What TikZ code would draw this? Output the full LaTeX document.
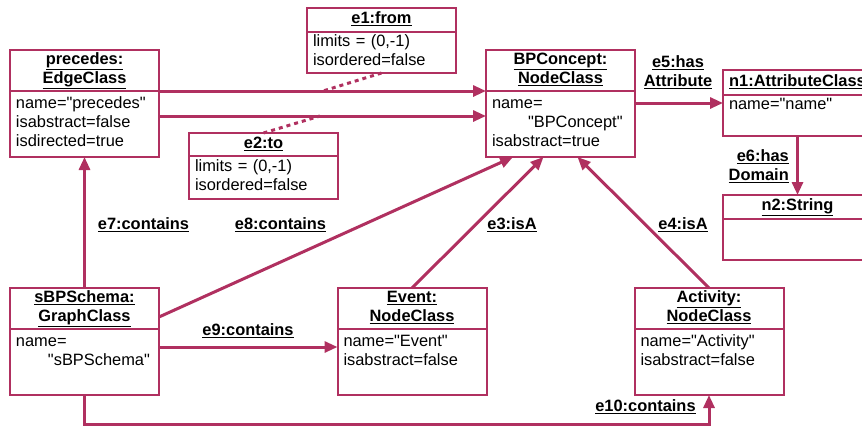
\documentclass[tikz,border=0pt]{standalone}
\usepackage{fontspec}
\setmainfont{Liberation Sans}[Ligatures=TeXOff]
\usepackage{tikz}
\usetikzlibrary{arrows.meta, positioning, calc}
\definecolor{umlred}{RGB}{176,48,96}

\begin{document}
\begin{tikzpicture}[x=1pt, y=-1pt, font=\fontsize{16.4}{19}\selectfont,
        objtitle/.style={draw=umlred, line width=2pt, fill=white, minimum width=149pt, inner xsep=6pt, inner ysep=1pt, outer sep=0pt, align=center, font=\fontsize{16.4}{19}\selectfont\bfseries},
        objattr/.style={draw=umlred, line width=2pt, fill=white, text width=137pt, inner xsep=6pt, inner ysep=1.5pt, outer sep=0pt, align=left},
        conn/.style={draw=umlred, line width=3pt, -{Triangle[length=13pt, width=11pt]}},
        dotlink/.style={draw=umlred, line width=3pt, dash pattern=on 4pt off 4pt},
        lbl/.style={inner sep=0pt, align=center, font=\fontsize{16.4}{19}\selectfont\bfseries},
      ]
        \useasboundingbox (0,0) rectangle (862,426);
        \clip (0,0) rectangle (862,426);

        % precedes : EdgeClass
        \node[objtitle, minimum height=41pt] (prec) at (84.5,70.5) {\strut\underline{precedes:}\\\underline{EdgeClass}\strut};
        \node[objattr, minimum height=66pt, below=0pt of prec] (preca) {\strut name="precedes"\\isabstract=false\\isdirected=true\strut};

        % e1 : from
        \node[objtitle, minimum height=24pt] (efrom) at (381.5,20) {\strut\underline{e1:from}};
        \node[objattr, minimum height=41pt, below=0pt of efrom] (efroma) {\strut limits = (0,-1)\\isordered=false\strut};

        % e2 : to
        \node[objtitle, minimum height=23pt] (eto) at (263.5,144.5) {\strut\underline{e2:to}};
        \node[objattr, minimum height=43pt, below=0pt of eto] (etoa) {\strut limits = (0,-1)\\isordered=false\strut};

        % BPConcept : NodeClass
        \node[objtitle, minimum height=41pt] (bpc) at (560.5,70.5) {\strut\underline{BPConcept:}\\\underline{NodeClass}\strut};
        \node[objattr, minimum height=66pt, below=0pt of bpc] (bpca) {\strut name=\\\hspace*{36pt}"BPConcept"\\isabstract=true\strut};

        % n1 : AttributeClass, n2 : String
        \node[objtitle, minimum height=25pt] (attr) at (797.5,82.5) {\strut\underline{n1:AttributeClass}};
        \node[objattr, minimum height=41pt, below=0pt of attr] (attra) {\strut name="name"\\\strut};
        \node[objtitle, minimum height=24pt] (str) at (797.5,207) {\strut\underline{n2:String}};
        \node[objattr, minimum height=41pt, below=0pt of str] (stra) {\strut\\\strut};

        % sBPSchema : GraphClass
        \node[objtitle, minimum height=41pt] (sbp) at (84.5,308.5) {\strut\underline{sBPSchema:}\\\underline{GraphClass}\strut};
        \node[objattr, minimum height=66pt, below=0pt of sbp] (sbpa) {\strut name=\\\hspace*{32pt}"sBPSchema"\\\strut};

        % Event and Activity
        \node[objtitle, minimum height=41pt] (evt) at (412,308.5) {\strut\underline{Event:}\\\underline{NodeClass}\strut};
        \node[objattr, minimum height=66pt, below=0pt of evt] (evta) {\strut name="Event"\\isabstract=false\\\strut};
        \node[objtitle, minimum height=41pt] (act) at (709,308.5) {\strut\underline{Activity:}\\\underline{NodeClass}\strut};
        \node[objattr, minimum height=66pt, below=0pt of act] (acta) {\strut name="Activity"\\isabstract=false\\\strut};

        % edges from precedes to BPConcept
        \draw[conn] (prec.south east) -- (bpc.south west);
        \draw[conn] ([yshift=-25pt]preca.north east) -- ([yshift=-25pt]bpca.north west);
        \coordinate (onfrom) at (323,91);
        \coordinate (onto) at (320,116);
        \draw[dotlink] (efroma.south) -- (onfrom);
        \draw[dotlink] (eto.north) -- (onto);

        % attribute and domain
        \coordinate (hasat) at ([yshift=-12pt]bpca.north east);
        \draw[conn] (hasat) -- (hasat -| attra.west);
        \draw[conn] (attra.south) -- (str.north);
        \node[lbl] (lhasat) at (678,72) {\underline{e5:has}\\\underline{Attribute}};
        \node[lbl, anchor=east, align=right] (lhasdom) at (789,166) {\underline{e6:has}\\\underline{Domain}};

        % contains and isA
        \draw[conn] (sbp.north) -- (preca.south);
        \draw[conn] ([yshift=-29pt]sbp.north east) -- ([xshift=27pt]bpca.south west);
        \draw[conn] (evt.north) -- ([xshift=-17pt]bpca.south);
        \draw[conn] (act.north) -- ([xshift=17pt]bpca.south);
        \coordinate (cont) at ([yshift=-18pt]sbpa.north east);
        \draw[conn] (cont) -- (cont -| evta.west);
        \draw[conn] (sbpa.south) -- ++(0,29) -| (acta.south);

        \node[lbl] (lc7) at (143.5,225) {\underline{e7:contains}};
        \node[lbl] (lc8) at (280.5,225) {\underline{e8:contains}};
        \node[lbl] (lisa3) at (512,225) {\underline{e3:isA}};
        \node[lbl] (lisa4) at (683,225) {\underline{e4:isA}};
        \node[lbl] (lc9) at (248,331) {\underline{e9:contains}};
        \node[lbl] (lc10) at (645.5,407) {\underline{e10:contains}};
      \end{tikzpicture}
\end{document}
